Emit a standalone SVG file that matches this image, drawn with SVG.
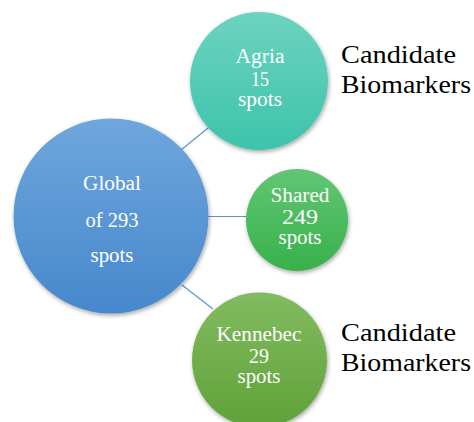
<svg xmlns="http://www.w3.org/2000/svg" width="474" height="422" viewBox="0 0 474 422">
<defs>
<linearGradient id="gBlue" x1="0" y1="0" x2="0" y2="1"><stop offset="0" stop-color="#6fa6dd"/><stop offset="1" stop-color="#4688cc"/></linearGradient>
<linearGradient id="gTeal" x1="0" y1="0" x2="0" y2="1"><stop offset="0" stop-color="#6cd3bf"/><stop offset="1" stop-color="#3ec3ac"/></linearGradient>
<linearGradient id="gGreen" x1="0" y1="0" x2="0" y2="1"><stop offset="0" stop-color="#62c674"/><stop offset="1" stop-color="#38b14b"/></linearGradient>
<linearGradient id="gOlive" x1="0" y1="0" x2="0" y2="1"><stop offset="0" stop-color="#82bb60"/><stop offset="1" stop-color="#5fa238"/></linearGradient>
<filter id="sh" x="-20%" y="-20%" width="140%" height="140%"><feDropShadow dx="1" dy="2" stdDeviation="2" flood-color="#000" flood-opacity="0.35"/></filter>
</defs>
<style>
.conn{stroke:#5b93d3;stroke-width:1.2;fill:none}
.lbl{fill:#fff;text-anchor:middle;font-size:20px}
.side{fill:#000;font-size:26px}
</style>
<rect width="474" height="422" fill="#fff"/>
<g id="connectors">
<line class="conn" x1="181" y1="150" x2="213" y2="124"/>
<line class="conn" x1="207" y1="216.5" x2="246" y2="216.5"/>
<line class="conn" x1="182" y1="285" x2="213" y2="309"/>
</g>
<g font-family="Liberation Serif, DejaVu Serif, serif" lengthAdjust="spacingAndGlyphs">
<g id="global">
<circle cx="111" cy="216" r="97.5" fill="url(#gBlue)" filter="url(#sh)"/>
<text class="lbl" x="112" y="190" textLength="58" lengthAdjust="spacingAndGlyphs">Global</text>
<text class="lbl" x="112" y="227" textLength="53" lengthAdjust="spacingAndGlyphs">of 293</text>
<text class="lbl" x="112" y="262" textLength="43" lengthAdjust="spacingAndGlyphs">spots</text>
</g>
<g id="agria">
<circle cx="259" cy="81" r="69" fill="url(#gTeal)" filter="url(#sh)"/>
<text class="lbl" x="260" y="63" textLength="49" lengthAdjust="spacingAndGlyphs">Agria</text>
<text class="lbl" x="260" y="86" textLength="18" lengthAdjust="spacingAndGlyphs">15</text>
<text class="lbl" x="260" y="106" textLength="44" lengthAdjust="spacingAndGlyphs">spots</text>
</g>
<g id="shared">
<circle cx="297" cy="220" r="51" fill="url(#gGreen)" filter="url(#sh)"/>
<text class="lbl" x="300" y="202" textLength="59" lengthAdjust="spacingAndGlyphs">Shared</text>
<text class="lbl" x="300" y="224" textLength="36" lengthAdjust="spacingAndGlyphs">249</text>
<text class="lbl" x="300" y="244" textLength="43" lengthAdjust="spacingAndGlyphs">spots</text>
</g>
<g id="kennebec">
<circle cx="259.5" cy="360" r="67.5" fill="url(#gOlive)" filter="url(#sh)"/>
<text class="lbl" x="259" y="341" textLength="85" lengthAdjust="spacingAndGlyphs">Kennebec</text>
<text class="lbl" x="259" y="363" textLength="20" lengthAdjust="spacingAndGlyphs">29</text>
<text class="lbl" x="259" y="383" textLength="43" lengthAdjust="spacingAndGlyphs">spots</text>
</g>
<g id="label-top">
<text class="side" x="341" y="63" textLength="115" lengthAdjust="spacingAndGlyphs">Candidate</text>
<text class="side" x="341" y="93" textLength="130" lengthAdjust="spacingAndGlyphs">Biomarkers</text>
</g>
<g id="label-bottom">
<text class="side" x="341" y="341" textLength="115" lengthAdjust="spacingAndGlyphs">Candidate</text>
<text class="side" x="341" y="371" textLength="130" lengthAdjust="spacingAndGlyphs">Biomarkers</text>
</g>
</g>
</svg>
